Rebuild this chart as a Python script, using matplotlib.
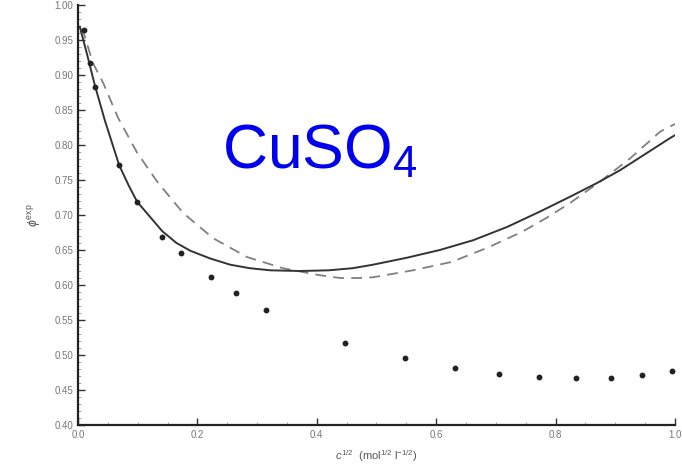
import matplotlib
matplotlib.use("Agg")
import matplotlib.pyplot as plt
from matplotlib.ticker import MultipleLocator

plt.rcParams['font.family'] = ['Liberation Sans', 'DejaVu Sans']
plt.rcParams['mathtext.fontset'] = 'custom'
plt.rcParams['mathtext.rm'] = 'Liberation Sans'
plt.rcParams['mathtext.it'] = 'Liberation Sans:italic'
plt.rcParams['mathtext.bf'] = 'Liberation Sans:bold'

# experimental points
exp_x = [0.010, 0.020, 0.028, 0.069, 0.099, 0.141, 0.173, 0.223, 0.265, 0.315,
         0.447, 0.548, 0.631, 0.705, 0.772, 0.834, 0.893, 0.945, 0.995]
exp_y = [0.964, 0.917, 0.883, 0.771, 0.719, 0.669, 0.646, 0.611, 0.589, 0.564,
         0.517, 0.496, 0.481, 0.473, 0.469, 0.467, 0.467, 0.471, 0.477]

# solid model curve
solid_x = [0.003, 0.015, 0.028, 0.045, 0.069, 0.085, 0.099, 0.121, 0.141, 0.165,
           0.188, 0.221, 0.255, 0.288, 0.322, 0.372, 0.420, 0.460, 0.494, 0.551,
           0.606, 0.662, 0.719, 0.774, 0.824, 0.870, 0.908, 0.950, 0.992, 1.0]
solid_y = [0.969, 0.930, 0.886, 0.835, 0.771, 0.742, 0.719, 0.697, 0.677, 0.660,
           0.649, 0.638, 0.629, 0.624, 0.621, 0.620, 0.621, 0.624, 0.629, 0.639,
           0.650, 0.664, 0.683, 0.705, 0.726, 0.746, 0.764, 0.787, 0.810, 0.814]

# dashed model curve
dash_x = [0.007, 0.025, 0.042, 0.067, 0.099, 0.134, 0.176, 0.226, 0.283, 0.343,
          0.405, 0.439, 0.470, 0.494, 0.561, 0.626, 0.685, 0.744, 0.785, 0.824,
          0.875, 0.925, 0.975, 1.0]
dash_y = [0.967, 0.917, 0.889, 0.839, 0.789, 0.746, 0.703, 0.667, 0.640, 0.624,
          0.614, 0.610, 0.610, 0.611, 0.621, 0.633, 0.653, 0.676, 0.696, 0.717,
          0.748, 0.781, 0.819, 0.830]

xticks = [0.0, 0.2, 0.4, 0.6, 0.8, 1.0]
xticklabels = ["0.0", "0.2", "0.4", "0.6", "0.8", "1.0"]
yticks = [0.40, 0.45, 0.50, 0.55, 0.60, 0.65, 0.70, 0.75, 0.80, 0.85, 0.90, 0.95, 1.00]
yticklabels = ["0.40", "0.45", "0.50", "0.55", "0.60", "0.65", "0.70", "0.75",
               "0.80", "0.85", "0.90", "0.95", "1.00"]

fig = plt.figure(figsize=(6.82, 4.69), dpi=100)
ax = fig.add_axes([0.1144, 0.0938, 0.8753, 0.8955])

ax.plot(dash_x, dash_y, linestyle=(0, (6, 4)), color='#808080', linewidth=1.3)
ax.plot(solid_x, solid_y, '-', color='#333333', linewidth=1.4)
ax.plot(exp_x, exp_y, 'o', color='#222222', markersize=3.2, linestyle='none')

ax.set_xlim(0, 1.0)
ax.set_ylim(0.40, 1.00)
ax.set_xticks(xticks)
ax.set_xticklabels(xticklabels)
ax.set_yticks(yticks)
ax.set_yticklabels(yticklabels)
ax.xaxis.set_minor_locator(MultipleLocator(0.05))
ax.yaxis.set_minor_locator(MultipleLocator(0.01))
ax.tick_params(which='major', direction='in', length=5, width=1, labelsize=7,
               labelcolor='#777777', color='#333333')
ax.tick_params(which='minor', direction='in', length=2.5, width=0.6, color='#999999')

for s in ['top', 'right']:
    ax.spines[s].set_visible(False)
for s in ['left', 'bottom']:
    ax.spines[s].set_linewidth(1.6)
    ax.spines[s].set_color('#222222')

ax.set_xlabel(r"$c^{1/2}$  (mol$^{1/2}$ l$^{-1/2}$)", fontsize=8, color='#555555', labelpad=6)
ax.set_ylabel(r"$\phi^{\rm exp}$", fontsize=9, color='#555555', labelpad=8)

ax.text(0.405, 0.79, r"CuSO$_4$", color='#0000ee', fontsize=45,
        ha='center', va='center', transform=ax.transData)

fig.savefig("out.png", dpi=100)
